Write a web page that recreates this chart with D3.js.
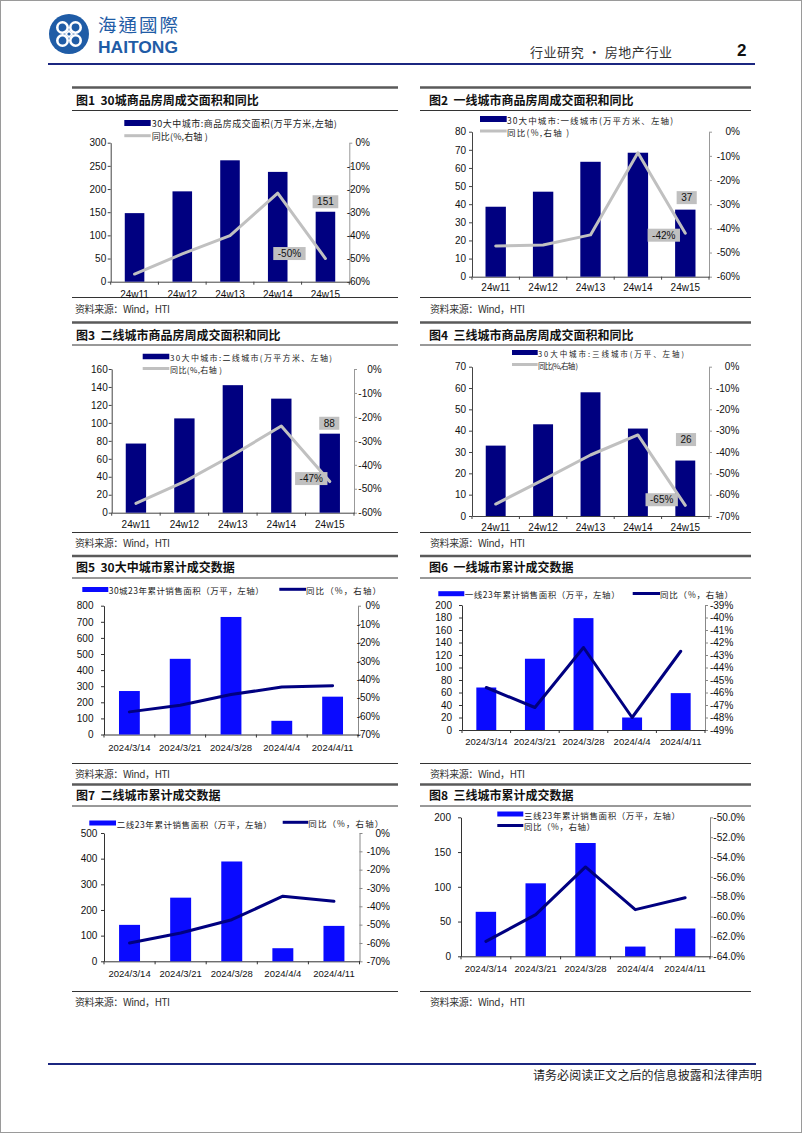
<!DOCTYPE html>
<html><head><meta charset="utf-8">
<script src="https://cdn.jsdelivr.net/npm/d3@7"></script>
<style>body{margin:0;background:#fff}svg{display:block}</style>
</head><body>
<svg id="page" width="802" height="1133"></svg>
<script>
// ---------------- DATA ----------------
const weeks = ["24w11","24w12","24w13","24w14","24w15"];
const dates = ["2024/3/14","2024/3/21","2024/3/28","2024/4/4","2024/4/11"];

const area30   = [148,195,262,237,151];
const yoy30    = [-56.7,-48.0,-40.1,-21.8,-50];
const areaT1   = [38.6,46.9,63.4,68.4,37];
const yoyT1    = [-47.3,-46.9,-42.7,-8.7,-42];
const areaT2   = [77,105,142,127,88];
const yoyT2    = [-56.1,-47.0,-35.9,-23.8,-47];
const areaT3   = [33,43,58,41,26];
const yoyT3    = [-64.4,-53.1,-41.4,-32.0,-65];

const cum30    = [270,470,730,85,235];
const cumYoy30 = [-57.7,-54.1,-48.3,-44.2,-43.5];
const cumT1    = [68,114,179,20,59];
const cumYoyT1 = [-45.6,-47.2,-42.4,-48.0,-42.7];
const cumT2    = [142,248,389,51,138];
const cumYoyT2 = [-60.0,-54.6,-47.3,-34.5,-37.3];
const cumT3    = [64,105,163,14,40];
const cumYoyT3 = [-62.5,-59.8,-55.0,-59.3,-58.1];

// tick labels
const ticks300 = [0,50,100,150,200,250,300];
const ticks80  = [0,10,20,30,40,50,60,70,80];
const ticks160 = [0,20,40,60,80,100,120,140,160];
const ticks70  = [0,10,20,30,40,50,60,70];
const ticks800 = [0,100,200,300,400,500,600,700,800];
const ticks200s20 = [0,20,40,60,80,100,120,140,160,180,200];
const ticks500 = [0,100,200,300,400,500];
const ticks200s50 = [0,50,100,150,200];
const pct60 = [-60,-50,-40,-30,-20,-10,0];
const pct70 = [-70,-60,-50,-40,-30,-20,-10,0];
const pct49 = [-49,-48,-47,-46,-45,-44,-43,-42,-41,-40,-39];
const pct64 = [-64,-62,-60,-58,-56,-54,-52,-50];

// texts
const titles = ["图1  30城商品房周成交面积和同比","图2  一线城市商品房周成交面积和同比",
  "图3  二线城市商品房周成交面积和同比","图4  三线城市商品房周成交面积和同比",
  "图5  30大中城市累计成交数据","图6  一线城市累计成交数据",
  "图7  二线城市累计成交数据","图8  三线城市累计成交数据"];
const barLegends = ["30大中城市:商品房成交面积(万平方米,左轴)","30大中城市:一线城市(万平方米、左轴)",
  "30大中城市:二线城市(万平方米、左轴)","30大中城市:三线城市(万平、左轴)",
  "30城23年累计销售面积（万平，左轴）","一线23年累计销售面积（万平，左轴）",
  "二线23年累计销售面积（万平，左轴）","三线23年累计销售面积（万平，左轴）"];
const lineLegendA = "同比(%,右轴 )";
const lineLegendB = "同比（%，右轴）";
const sourceText = "资料来源：Wind，HTI";

// ---------------- PAGE ----------------
const svg = d3.select("#page");
const LAT = "'Liberation Sans', Arial, sans-serif";
const CJK = "'Noto Sans CJK SC', 'Noto Sans', sans-serif";

svg.append("rect").attr("x",0.5).attr("y",0.5).attr("width",801).attr("height",1132)
  .attr("fill","#fff").attr("stroke","#9a9a9a");

// logo
const logoBlue = "#1f5ca6";
const lg = svg.append("g").attr("transform","translate(69,34)");
lg.append("circle").attr("r",20).attr("fill",logoBlue);
[[-6.5,-6.5],[6.5,-6.5],[-6.5,6.5],[6.5,6.5]].forEach(([dx,dy])=>{
  lg.append("circle").attr("cx",dx).attr("cy",dy).attr("r",5.2).attr("fill","none")
    .attr("stroke","#fff").attr("stroke-width",2.6);
});
lg.append("rect").attr("x",-3).attr("y",-3).attr("width",6).attr("height",6)
  .attr("transform","rotate(45)").attr("fill","#fff");
lg.append("circle").attr("r",1.6).attr("fill",logoBlue);
svg.append("text").attr("x",98).attr("y",32).text("海通國際")
  .attr("font-family","'Noto Sans CJK TC', 'Noto Sans CJK SC', sans-serif").attr("font-size",18.5)
  .attr("fill",logoBlue).attr("textLength",80);
svg.append("text").attr("x",98).attr("y",53).text("HAITONG")
  .attr("font-family",LAT).attr("font-weight","bold").attr("font-size",17)
  .attr("fill",logoBlue).attr("textLength",80).attr("lengthAdjust","spacingAndGlyphs");

svg.append("text").attr("x",530).attr("y",57).text("行业研究 · 房地产行业")
  .attr("font-family",CJK).attr("font-size",13).attr("fill","#333").attr("textLength",142);
svg.append("text").attr("x",737).attr("y",56).text("2")
  .attr("font-family",LAT).attr("font-weight","bold").attr("font-size",17).attr("fill","#111");
svg.append("line").attr("x1",48).attr("x2",755).attr("y1",64).attr("y2",64)
  .attr("stroke","#1b2680").attr("stroke-width",2);

// footer
svg.append("line").attr("x1",48).attr("x2",756).attr("y1",1064).attr("y2",1064)
  .attr("stroke","#1b2680").attr("stroke-width",2);
svg.append("text").attr("x",533).attr("y",1080).text("请务必阅读正文之后的信息披露和法律声明")
  .attr("font-family",CJK).attr("font-size",12).attr("fill","#222").attr("textLength",229);

// section frames
const cols = [{x0:72,x1:398,tx:76,sx:75},{x0:420,x1:751,tx:429,sx:430}];
const rows = [
  {top:87.5, tline:110.5, sline:297.5, tb:105, sb:312.5},
  {top:322.5,tline:345,   sline:532.5, tb:340, sb:547},
  {top:556,  tline:578,   sline:763.5, tb:572, sb:777.5},
  {top:784.5,tline:806,   sline:991.5, tb:800, sb:1005.5}
];
rows.forEach((r,ri)=>{
  cols.forEach((c,ci)=>{
    const k = ri*2+ci;
    svg.append("line").attr("x1",c.x0).attr("x2",c.x1).attr("y1",r.top).attr("y2",r.top)
      .attr("stroke","#5a5a5a").attr("stroke-width",2.5);
    svg.append("line").attr("x1",c.x0).attr("x2",c.x1).attr("y1",r.tline).attr("y2",r.tline)
      .attr("stroke","#333").attr("stroke-width",1);
    svg.append("line").attr("x1",c.x0).attr("x2",c.x1).attr("y1",r.sline).attr("y2",r.sline)
      .attr("stroke","#333").attr("stroke-width",1);
    svg.append("text").attr("x",c.tx).attr("y",r.tb).text(titles[k])
      .attr("font-family",CJK).attr("font-weight","bold").attr("font-size",12).attr("fill","#111")
      .attr("xml:space","preserve").style("white-space","pre");
    svg.append("text").attr("x",c.sx).attr("y",r.sb).text(sourceText)
      .attr("font-family",CJK).attr("font-size",10).attr("fill","#333").attr("textLength",95);
  });
});

// ---------------- CHARTS ----------------
function drawChart(cfg){
  const g = svg.append("g");
  const x = d3.scaleBand().domain(cfg.cats).range([cfg.x0,cfg.x1]);
  const yL = d3.scaleLinear().domain([cfg.lTicks[0],cfg.lTicks[cfg.lTicks.length-1]]).range([cfg.yB,cfg.yT]);
  const yR = d3.scaleLinear().domain([cfg.rTicks[0],cfg.rTicks[cfg.rTicks.length-1]]).range([cfg.yB,cfg.yT]);
  const bw = x.bandwidth()*cfg.barRatio;
  const cx = c => x(c)+x.bandwidth()/2;

  // axes
  const gl = g.append("g").attr("transform",`translate(${cfg.x0},0)`)
    .call(d3.axisLeft(yL).tickValues(cfg.lTicks).tickSizeInner(3).tickSizeOuter(0)
      .tickPadding(cfg.lGap-3).tickFormat(d=>d));
  gl.select(".domain").attr("stroke",cfg.axisColor);
  gl.selectAll(".tick line").attr("stroke",cfg.axisColor);
  const gr = g.append("g").attr("transform",`translate(${cfg.x1},0)`)
    .call(d3.axisRight(yR).tickValues(cfg.rTicks).tickSizeInner(3).tickSizeOuter(0).tickFormat(cfg.rFmt));
  gr.select(".domain").attr("stroke",cfg.rAxisColor);
  gr.selectAll(".tick line").attr("stroke",cfg.rAxisColor);
  gr.selectAll("text").attr("text-anchor","end").attr("x",cfg.rEnd-cfg.x1);
  const gb = g.append("g").attr("transform",`translate(0,${cfg.yB})`)
    .call(d3.axisBottom(x).tickSize(0).tickSizeOuter(0).tickPadding(cfg.xPad));
  gb.select(".domain").attr("stroke",cfg.axisColor);
  gb.selectAll(".tick line").remove();
  g.append("g").selectAll("line").data(d3.range(cfg.cats.length+1)).join("line")
    .attr("x1",i=>cfg.x0+i*x.step()).attr("x2",i=>cfg.x0+i*x.step())
    .attr("y1",cfg.yB).attr("y2",cfg.yB+3).attr("stroke",cfg.axisColor);
  [gl,gr,gb].forEach(a=>a.selectAll("text").attr("font-family",LAT).attr("font-size",cfg.fs||10).attr("fill","#111"));
  gb.selectAll("text").attr("font-size",cfg.xfs||10);

  // bars
  g.append("g").selectAll("rect").data(cfg.bars).join("rect")
    .attr("x",(d,i)=>x(cfg.cats[i])+(x.bandwidth()-bw)/2).attr("width",bw)
    .attr("y",d=>yL(d)).attr("height",d=>yL(0)-yL(d)).attr("fill",cfg.barColor);

  // line
  const line = d3.line().x((d,i)=>cx(cfg.cats[i])).y(d=>yR(d));
  g.append("path").datum(cfg.line).attr("d",line).attr("fill","none")
    .attr("stroke",cfg.lineColor).attr("stroke-width",3).attr("stroke-linejoin","round").attr("stroke-linecap","round");

  // data labels
  if(cfg.labels){
    const n = cfg.cats.length-1;
    const mk = (px,py,txt)=>{
      const t = g.append("text").attr("x",px).attr("y",py).text(txt).attr("text-anchor","middle")
        .attr("dominant-baseline","central").attr("font-family",LAT).attr("font-size",10).attr("fill","#111");
      const w = t.node().getComputedTextLength()+9;
      g.insert("rect",()=>t.node()).attr("x",px-w/2).attr("y",py-6.5).attr("width",w).attr("height",13).attr("fill","#c0c0c0");
    };
    mk(cx(cfg.cats[n])+cfg.bl[0], yL(cfg.bars[n])+cfg.bl[1], String(cfg.bars[n]));
    mk(cx(cfg.cats[n])+cfg.ll[0], yR(cfg.line[n])+cfg.ll[1], Math.round(cfg.line[n])+"%");
  }

  // legend
  cfg.legend.forEach(it=>{
    if(it.type==="rect"){
      g.append("rect").attr("x",it.x).attr("y",it.y-it.h/2).attr("width",it.w).attr("height",it.h).attr("fill",cfg.barColor);
    } else {
      g.append("line").attr("x1",it.x).attr("x2",it.x+it.w).attr("y1",it.y).attr("y2",it.y)
        .attr("stroke",cfg.lineColor).attr("stroke-width",3);
    }
    g.append("text").attr("x",it.tx).attr("y",it.y+0.5).text(it.text).attr("dominant-baseline","central")
      .attr("font-family",CJK).attr("font-size",cfg.lfs).attr("fill","#222").attr("textLength",it.tl);
  });
}

const NAVY = "#000080", GRAY = "#c0c0c0", BLUE = "#0a0aff";
const pf = d=>d+"%";

drawChart({cats:weeks,bars:area30,line:yoy30,x0:110.7,x1:349.3,yT:142.7,yB:281.7,
  lTicks:ticks300,rTicks:pct60,rFmt:pf,lGap:4.5,rEnd:370,xPad:9.6,barRatio:0.41,
  barColor:NAVY,lineColor:GRAY,axisColor:"#444",rAxisColor:"#999",labels:true,bl:[0,-10],ll:[-36,-5],lfs:9,
  legend:[{type:"rect",x:124.3,w:26.4,y:123,h:6,tx:151.7,tl:185,text:barLegends[0]},
          {type:"line",x:124.3,w:26.4,y:135.7,tx:151.7,tl:56,text:lineLegendA}]});
drawChart({cats:weeks,bars:areaT1,line:yoyT1,x0:472,x1:709,yT:131.7,yB:276.7,
  lTicks:ticks80,rTicks:pct60,rFmt:pf,lGap:6,rEnd:740,xPad:7.6,barRatio:0.43,
  barColor:NAVY,lineColor:GRAY,axisColor:"#444",rAxisColor:"#999",labels:true,bl:[1.4,-12],ll:[-21.5,2],lfs:8.5,
  legend:[{type:"rect",x:480,w:26.7,y:119,h:6,tx:507,tl:166,text:barLegends[1]},
          {type:"line",x:480,w:26.7,y:131,tx:507,tl:62,text:lineLegendA}]});
drawChart({cats:weeks,bars:areaT2,line:yoyT2,x0:111.7,x1:354,yT:369,yB:512.7,
  lTicks:ticks160,rTicks:pct60,rFmt:pf,lGap:4,rEnd:381.7,xPad:8.3,barRatio:0.42,
  barColor:NAVY,lineColor:GRAY,axisColor:"#444",rAxisColor:"#999",labels:true,bl:[-0.5,-10.4],ll:[-18.5,-3],lfs:8,
  legend:[{type:"rect",x:142.7,w:26.6,y:356.5,h:5.5,tx:170,tl:162,text:barLegends[2]},
          {type:"line",x:142.7,w:26.6,y:368.5,tx:170,tl:52,text:lineLegendA}]});
drawChart({cats:weeks,bars:areaT3,line:yoyT3,x0:472,x1:709,yT:366.7,yB:516,
  lTicks:ticks70,rTicks:pct70,rFmt:pf,lGap:6,rEnd:739.3,xPad:8.3,barRatio:0.42,
  barColor:NAVY,lineColor:GRAY,axisColor:"#444",rAxisColor:"#999",labels:true,bl:[0.7,-21],ll:[-23.6,-5.6],lfs:7.5,
  legend:[{type:"rect",x:512,w:25.7,y:352.5,h:5,tx:538,tl:146,text:barLegends[3]},
          {type:"line",x:512,w:25.7,y:364.5,tx:538,tl:40,text:lineLegendA}]});

drawChart({cats:dates,bars:cum30,line:cumYoy30,x0:104,x1:358,yT:605.7,yB:734.5,
  lTicks:ticks800,rTicks:pct70,rFmt:pf,lGap:10.5,rEnd:380,xPad:9.8,barRatio:0.41,
  barColor:BLUE,lineColor:NAVY,axisColor:"#333",rAxisColor:"#888",labels:false,lfs:8.5,xfs:9.5,
  legend:[{type:"rect",x:82.3,w:26,y:589.5,h:5,tx:108.7,tl:155,text:barLegends[4]},
          {type:"line",x:279.3,w:26.7,y:589.3,tx:306,tl:75,text:lineLegendB}]});
drawChart({cats:dates,bars:cumT1,line:cumYoyT1,x0:462,x1:705,yT:605,yB:730,
  lTicks:ticks200s20,rTicks:pct49,rFmt:pf,lGap:10,rEnd:733.3,xPad:8.7,barRatio:0.41,
  barColor:BLUE,lineColor:NAVY,axisColor:"#333",rAxisColor:"#888",labels:false,lfs:8.5,xfs:9.5,
  legend:[{type:"rect",x:438.3,w:26,y:593.7,h:5,tx:464.7,tl:155,text:barLegends[5]},
          {type:"line",x:632.7,w:27.3,y:593.5,tx:660,tl:73,text:lineLegendB}]});
drawChart({cats:dates,bars:cumT2,line:cumYoyT2,x0:104,x1:359.5,yT:833,yB:961.3,
  lTicks:ticks500,rTicks:pct70,rFmt:pf,lGap:6.7,rEnd:390,xPad:9.4,barRatio:0.41,
  barColor:BLUE,lineColor:NAVY,axisColor:"#333",rAxisColor:"#888",labels:false,lfs:8.5,xfs:9.5,
  legend:[{type:"rect",x:89.3,w:26.7,y:823,h:5,tx:116.7,tl:155,text:barLegends[6]},
          {type:"line",x:282.7,w:25.6,y:822.3,tx:308.3,tl:75,text:lineLegendB}]});
drawChart({cats:dates,bars:cumT3,line:cumYoyT3,x0:461,x1:710,yT:817.3,yB:956.3,
  lTicks:ticks200s50,rTicks:pct64,rFmt:d=>d.toFixed(1)+"%",lGap:10,rEnd:745,xPad:8.7,barRatio:0.41,
  barColor:BLUE,lineColor:NAVY,axisColor:"#333",rAxisColor:"#888",labels:false,lfs:8.5,xfs:9.5,
  legend:[{type:"rect",x:497.3,w:26,y:814,h:5,tx:524,tl:156,text:barLegends[7]},
          {type:"line",x:497.3,w:26,y:825.5,tx:524,tl:71,text:lineLegendB}]});
</script>
</body></html>
